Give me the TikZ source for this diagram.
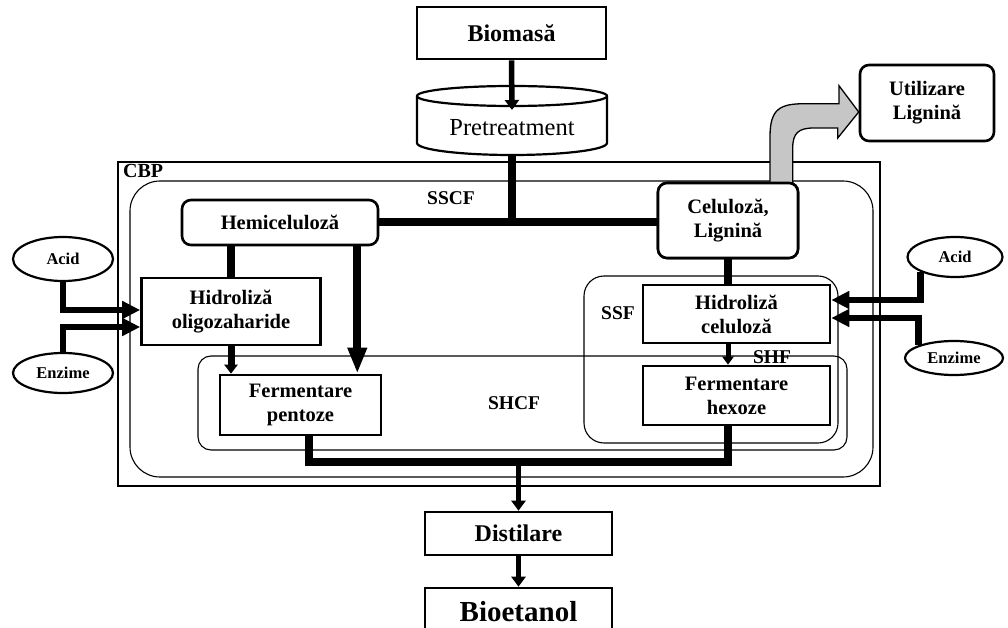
\documentclass[tikz,border=0pt]{standalone}
\usepackage{fontspec}
\setmainfont{Liberation Serif}
\usetikzlibrary{shapes.geometric,arrows.meta,calc}

\begin{document}
\begin{tikzpicture}[x=1pt,y=-1pt,
  sq/.style={draw, line width=2.6pt, fill=white, inner sep=0pt, align=center,
             font=\bfseries\fontsize{20.5}{24}\selectfont},
  rd/.style={sq, rounded corners=9pt},
  oval/.style={ellipse, draw, line width=2.2pt, fill=white, inner sep=0pt,
               font=\bfseries\fontsize{16.5}{19}\selectfont},
  frame/.style={draw, line width=1.1pt},
  lbl/.style={inner sep=0pt, font=\bfseries\fontsize{19.5}{22}\selectfont},
  cyl/.style={draw, line width=2.2pt, fill=white},
  bar/.style={line width=8pt, line join=miter},
  feed/.style={line width=6.5pt, line join=miter, -{Triangle[length=18pt,width=17pt]}},
  flow/.style={line width=5.5pt, -{Triangle[length=10pt,width=14pt]}},
  drop/.style={line width=8pt, -{Triangle[length=26pt,width=18pt]}},
  side/.style={draw, line width=1.3pt, fill=gray!45, line join=miter}
]
\useasboundingbox (0,0) rectangle (1008,628);
\clip (0,0) rectangle (1008,628);

% process containers
\draw[frame] (118,162) rectangle (880,486);
\draw[frame, rounded corners=30pt] (130,181) rectangle (873,477);
\draw[frame, rounded corners=13pt] (198,356) rectangle (847,450);
\draw[frame, rounded corners=20pt] (584,276) rectangle (838,443);

\node[lbl, font=\bfseries\fontsize{20}{22}\selectfont, anchor=base west] (cbp) at (123,178) {CBP};
\node[lbl] (sscf) at (451,198) {SSCF};
\node[lbl] (shcf) at (514,403) {SHCF};
\node[lbl] (ssf) at (618,313) {SSF};
\node[lbl] (shf) at (772,357) {SHF};

% feedstock and pretreatment
\node[sq, minimum width=189pt, minimum height=52pt,
      font=\bfseries\fontsize{24}{28}\selectfont] (bio) at (511.5,33) {Biomasă};
\draw[cyl] (417,96) -- (417,143) arc[start angle=180, end angle=360, x radius=95pt, y radius=12pt] -- (607,96);
\draw[cyl] (512,96) ellipse[x radius=95pt, y radius=10pt];
\node[inner sep=0pt, font=\fontsize{24.5}{28}\selectfont] (pre) at (512,128) {Pretreatment};
\coordinate (preIn) at (512,110);
\coordinate (preOut) at (512,155);

% process boxes
\node[rd, minimum width=196pt, minimum height=45pt] (hemi) at (280,222.5) {Hemiceluloză};
\node[rd, minimum width=140pt, minimum height=75pt] (cel) at (728,220.5) {Celuloză,\\Lignină};
\node[rd, minimum width=134pt, minimum height=76pt] (util) at (927,103) {Utilizare\\Lignină};
\node[sq, minimum width=179pt, minimum height=67pt] (hidO) at (231,311.5) {Hidroliză\\oligozaharide};
\node[sq, minimum width=187pt, minimum height=58pt] (hidC) at (736.5,314) {Hidroliză\\celuloză};
\node[sq, minimum width=161pt, minimum height=60pt] (fermP) at (300.5,405) {Fermentare\\pentoze};
\node[sq, minimum width=187pt, minimum height=59pt] (fermH) at (736.5,395.5) {Fermentare\\hexoze};
\node[sq, minimum width=187pt, minimum height=43pt,
      font=\bfseries\fontsize{24}{28}\selectfont] (dist) at (518.5,533.5) {Distilare};
\node[sq, minimum width=187pt, minimum height=48pt,
      font=\bfseries\fontsize{29}{33}\selectfont] (bioet) at (518.5,612) {Bioetanol};

% reagents
\node[oval, minimum width=100pt, minimum height=44pt] (acidL) at (63,259) {Acid};
\node[oval, minimum width=100pt, minimum height=40pt] (enzL) at (63,373) {Enzime};
\node[oval, minimum width=95pt, minimum height=40pt] (acidR) at (955,257) {Acid};
\node[oval, minimum width=98pt, minimum height=34pt] (enzR) at (954,358) {Enzime};

% lignin side stream
\draw[side] ([xshift=42pt]cel.north) -- ++(0,-45)
  .. controls +(0,-28) and +(-25,0) .. ++(35,-33) -- ++(34,0) -- ++(0,-18)
  -- ([yshift=-9pt]util.west) -- ++(-21,26) -- ++(0,-10) -- ++(-24,0)
  .. controls +(-15,0) and +(0,-15) .. ++(-21,20) -- ++(0,35);
\node[rd, minimum width=140pt, minimum height=75pt] at (cel) {Celuloză,\\Lignină};

% main flow
\draw[flow] (bio.south) -- (preIn);
\draw[bar] (preOut) -- (preOut |- hemi.east);
\draw[bar] (hemi.east) -- (cel.west |- hemi.east);
\draw[bar] (hidO.north |- hemi.south) -- (hidO.north);
\draw[drop] ([xshift=-22pt]hemi.south east) -- ([xshift=-22pt]hemi.south east |- fermP.north);
\draw[line width=7pt, -{Triangle[length=9pt,width=13pt]}] (hidO.south) -- (hidO.south |- fermP.north);
\draw[bar] (cel.south) -- (cel.south |- hidC.north);
\draw[line width=5pt, -{Triangle[length=8pt,width=11pt]}] (cel.south |- hidC.south) -- (cel.south |- fermH.north);

% reagent feeds
\draw[feed] (acidL.south) |- ([yshift=1.5pt]hidO.west);
\draw[feed] (enzL.north) |- ([yshift=-15.5pt]hidO.west);
\draw[feed] (acidR.south west) |- ([yshift=14pt]hidC.east);
\draw[feed] (enzR.north west) |- ([yshift=-4pt]hidC.east);

% collection to distillation
\coordinate (col) at (518.5,462);
\draw[bar] ([xshift=8pt]fermP.south) |- (cel.south |- col) -- (cel.south |- fermH.south);
\draw[flow] (col) -- (dist.north);
\draw[flow] (dist.south) -- (bioet.north);
\end{tikzpicture}
\end{document}
